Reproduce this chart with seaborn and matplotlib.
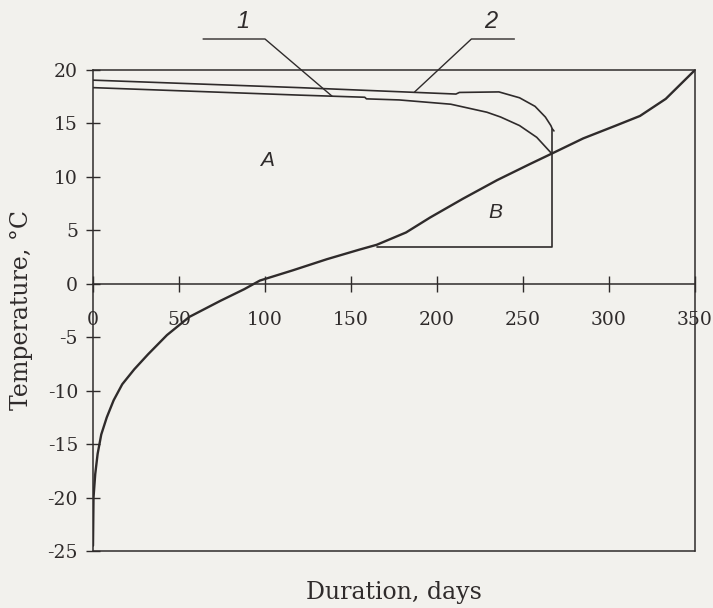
import matplotlib.pyplot as plt
import seaborn as sns

# duration curve of outdoor temperature
dur_days = [0, 0.3, 1.3, 2.7, 4.8, 8, 12, 17, 24, 32, 43, 56, 74, 88, 97,
            116, 136, 155, 165, 182, 196, 215, 235, 254, 267, 285, 304, 318, 333, 350]
dur_temp = [-24.5, -20, -17.8, -15.9, -14.1, -12.5, -10.9, -9.4, -8.0, -6.6, -4.8, -3.1, -1.6, -0.5, 0.3,
            1.25, 2.3, 3.2, 3.65, 4.8, 6.2, 7.95, 9.7, 11.2, 12.2, 13.6, 14.8, 15.7, 17.3, 20]

# curve 1 (lower) and curve 2 (upper)
c1_days = [0, 120, 158, 159, 178, 208, 229, 237, 248, 258, 266]
c1_temp = [18.35, 17.65, 17.45, 17.3, 17.2, 16.8, 16.05, 15.6, 14.8, 13.7, 12.3]
c2_days = [0, 120, 211, 213, 236, 248, 257, 263, 266.2, 267, 268]
c2_temp = [19.05, 18.35, 17.75, 17.9, 17.95, 17.4, 16.6, 15.6, 14.8, 14.5, 14.3]

# region B border (horizontal + vertical)
box_days = [165, 267, 267]
box_temp = [3.47, 3.47, 14.5]

# leader lines for labels 1 and 2
lead1_days = [64, 100, 139]
lead1_temp = [22.9, 22.9, 17.55]
lead2_days = [245, 220, 187]
lead2_temp = [22.9, 22.9, 17.95]

x_ticks = [0, 50, 100, 150, 200, 250, 300, 350]
y_ticks = [-25, -20, -15, -10, -5, 0, 5, 10, 15, 20]

sns.set_style("ticks")
plt.rcParams['font.family'] = ['DejaVu Serif']
plt.rcParams['axes.unicode_minus'] = False

ink = '#2f2b2b'
paper = '#f2f1ed'

fig = plt.figure(figsize=(7.13, 6.08), dpi=100, facecolor=paper)
ax = fig.add_axes([93/713, 1-551/608, 602/713, 481/608])
ax.set_facecolor(paper)

sns.lineplot(x=dur_days, y=dur_temp, ax=ax, color=ink, lw=1.7, estimator=None, sort=False)
sns.lineplot(x=c1_days, y=c1_temp, ax=ax, color=ink, lw=1.2, estimator=None, sort=False)
sns.lineplot(x=c2_days, y=c2_temp, ax=ax, color=ink, lw=1.2, estimator=None, sort=False)
sns.lineplot(x=box_days, y=box_temp, ax=ax, color=ink, lw=1.2, estimator=None, sort=False)
sns.lineplot(x=lead1_days, y=lead1_temp, ax=ax, color=ink, lw=1.0, estimator=None, sort=False, clip_on=False)
sns.lineplot(x=lead2_days, y=lead2_temp, ax=ax, color=ink, lw=1.0, estimator=None, sort=False, clip_on=False)

lab = dict(family='Liberation Sans', style='italic', color=ink, ha='center', va='center')
ax.text(87, 24.55, '1', fontsize=17, clip_on=False, **lab)
ax.text(231, 24.55, '2', fontsize=17, clip_on=False, **lab)
ax.text(101, 11.55, 'A', fontsize=15, **lab)
ax.text(233.7, 6.7, 'B', fontsize=15, **lab)

ax.set_xlim(0, 350)
ax.set_ylim(-25, 20)
ax.set_xticks(x_ticks)
ax.set_yticks(y_ticks)

for s in ax.spines.values():
    s.set_color(ink)
    s.set_linewidth(1.1)
ax.spines['bottom'].set_position(('data', 0))
ax.axhline(-25, color=ink, lw=1.1, clip_on=False)

ax.tick_params(axis='x', direction='inout', length=11, width=1.0, pad=14,
               labelsize=13.5, color=ink, labelcolor=ink)
ax.tick_params(axis='y', direction='inout', length=9.5, width=1.0, pad=6,
               labelsize=13.5, color=ink, labelcolor=ink)

ax.set_xlabel('Duration, days', fontsize=17, color=ink)
ax.set_ylabel('Temperature, °C', fontsize=17, color=ink)
ax.xaxis.set_label_coords(0.5, -0.062)
ax.yaxis.set_label_coords(-0.10, 0.5)

fig.savefig('out.png', dpi=100, facecolor=paper)
